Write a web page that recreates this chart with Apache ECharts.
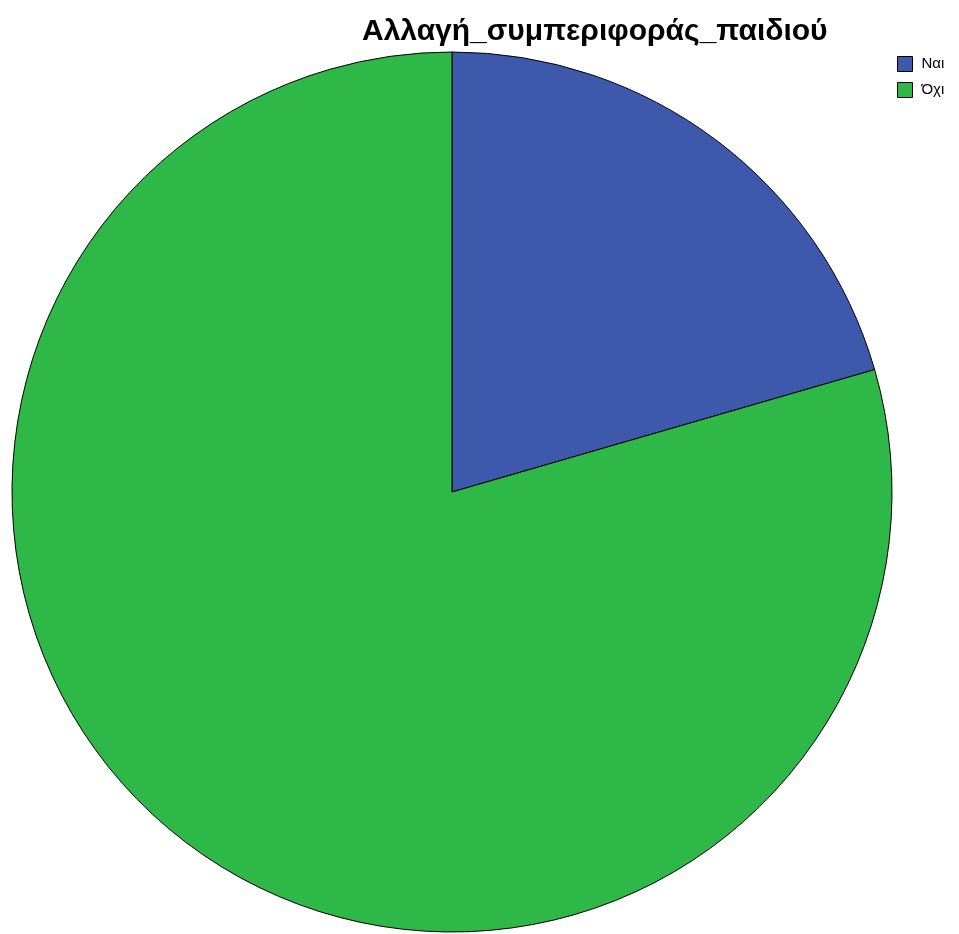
<!DOCTYPE html>
<html>
<head>
<meta charset="utf-8">
<script src="https://cdn.jsdelivr.net/npm/echarts@6/dist/echarts.min.js"></script>
<style>html,body{margin:0;padding:0;background:#fff}#c{width:959px;height:934px}</style>
</head>
<body>
<div id="c"></div>
<script>
const titleText = 'Αλλαγή_συμπεριφοράς_παιδιού';
const categories = ['Ναι', 'Όχι'];
const values = [8, 31];
const colors = ['#3E58AC', '#2EB848'];

const chart = echarts.init(document.getElementById('c'));
chart.setOption({
  backgroundColor: '#ffffff',
  animation: false,
  title: {
    text: titleText,
    left: 357,
    top: 12,
    textStyle: { fontFamily: 'Liberation Sans, Arial, sans-serif', fontSize: 30, fontWeight: 'bold', color: '#000' }
  },
  legend: {
    orient: 'vertical',
    left: 897,
    top: 56,
    padding: 0,
    itemWidth: 15,
    itemHeight: 15,
    itemGap: 10,
    icon: 'rect',
    itemStyle: { borderColor: '#000', borderWidth: 1 },
    textStyle: { fontFamily: 'Liberation Sans, Arial, sans-serif', fontSize: 15, color: '#000', padding: [0, 0, 0, 4] },
    data: categories
  },
  series: [{
    type: 'pie',
    center: [452, 492],
    radius: 440,
    startAngle: 90,
    clockwise: true,
    label: { show: false },
    labelLine: { show: false },
    emphasis: { disabled: true },
    itemStyle: { borderColor: '#000', borderWidth: 1 },
    data: categories.map((c, i) => ({ name: c, value: values[i], itemStyle: { color: colors[i] } }))
  }]
});
</script>
</body>
</html>
